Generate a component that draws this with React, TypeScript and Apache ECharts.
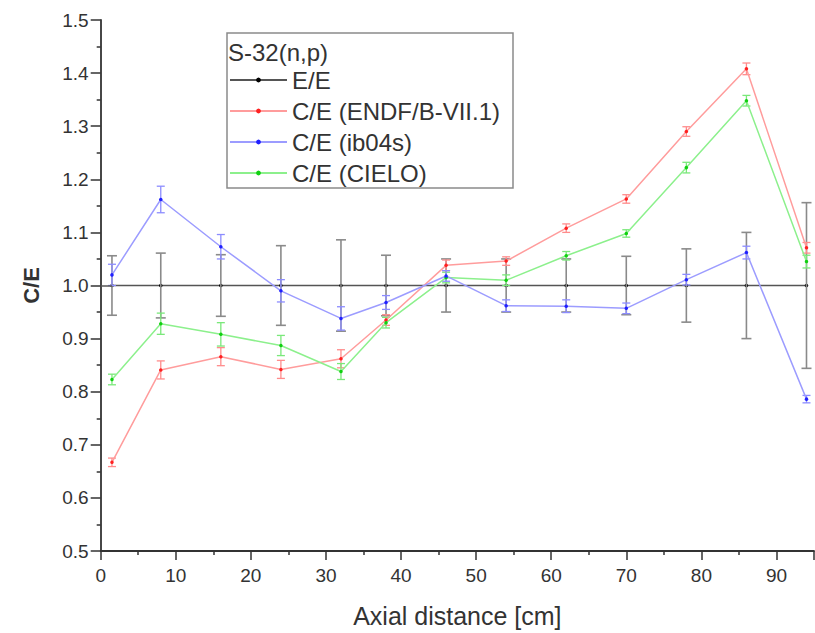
import React, { useEffect, useRef } from "react";
import * as echarts from "echarts";

const axialDistance = [1.5, 8, 16, 24, 32, 38, 46, 54, 62, 70, 78, 86, 94];
const eeValues = [1, 1, 1, 1, 1, 1, 1, 1, 1, 1, 1, 1, 1];
const eeErrors = [0.056, 0.061, 0.058, 0.075, 0.086, 0.057, 0.05, 0.05, 0.05, 0.055, 0.069, 0.1, 0.156];
const endfValues = [0.667, 0.841, 0.866, 0.842, 0.862, 0.935, 1.038, 1.046, 1.108, 1.163, 1.29, 1.408, 1.071];
const endfErrors = [0.008, 0.017, 0.017, 0.017, 0.017, 0.01, 0.01, 0.008, 0.008, 0.008, 0.009, 0.011, 0.01];
const ib04sValues = [1.02, 1.162, 1.073, 0.99, 0.938, 0.968, 1.018, 0.962, 0.961, 0.957, 1.011, 1.062, 0.786];
const ib04sErrors = [0.02, 0.025, 0.023, 0.021, 0.022, 0.013, 0.01, 0.011, 0.012, 0.01, 0.01, 0.012, 0.007];
const cieloValues = [0.823, 0.928, 0.908, 0.887, 0.838, 0.93, 1.015, 1.01, 1.056, 1.098, 1.222, 1.348, 1.045];
const cieloErrors = [0.01, 0.02, 0.022, 0.019, 0.015, 0.01, 0.01, 0.01, 0.008, 0.007, 0.01, 0.01, 0.012];

const seriesNames = ["E/E", "C/E (ENDF/B-VII.1)", "C/E (ib04s)", "C/E (CIELO)"];
const legendTitle = "S-32(n,p)";
const xAxisTitle = "Axial distance [cm]";
const yAxisTitle = "C/E";

const FONT = "'Liberation Sans', Arial, Helvetica, sans-serif";

type Spec = {
  name: string;
  values: number[];
  errors: number[];
  lineColor: string;
  dotColor: string;
  barColor: string;
  cap: number;
  barWidth: number;
};

const specs: Spec[] = [
  { name: seriesNames[0], values: eeValues, errors: eeErrors, lineColor: "#555555", dotColor: "#000000", barColor: "#8a8a8a", cap: 5, barWidth: 1.6 },
  { name: seriesNames[1], values: endfValues, errors: endfErrors, lineColor: "#ff9c9c", dotColor: "#ff2020", barColor: "#ff8c8c", cap: 4, barWidth: 1.3 },
  { name: seriesNames[2], values: ib04sValues, errors: ib04sErrors, lineColor: "#9c9cff", dotColor: "#2020ff", barColor: "#8c8cff", cap: 4, barWidth: 1.3 },
  { name: seriesNames[3], values: cieloValues, errors: cieloErrors, lineColor: "#8cf08c", dotColor: "#10d010", barColor: "#7ae87a", cap: 4, barWidth: 1.3 },
];

function errorBarSeries(s: Spec) {
  return {
    type: "custom",
    name: s.name + " err",
    silent: true,
    z: 3,
    encode: { x: 0, y: [1, 2] },
    data: axialDistance.map((x, i) => [x, s.values[i] - s.errors[i], s.values[i] + s.errors[i]]),
    renderItem: (params: any, api: any) => {
      const x = api.value(0);
      const lo = api.coord([x, api.value(1)]);
      const hi = api.coord([x, api.value(2)]);
      const style = { stroke: s.barColor, lineWidth: s.barWidth, fill: "none" };
      return {
        type: "group",
        children: [
          { type: "line", shape: { x1: lo[0], y1: lo[1], x2: hi[0], y2: hi[1] }, style },
          { type: "line", shape: { x1: lo[0] - s.cap, y1: lo[1], x2: lo[0] + s.cap, y2: lo[1] }, style },
          { type: "line", shape: { x1: hi[0] - s.cap, y1: hi[1], x2: hi[0] + s.cap, y2: hi[1] }, style },
        ],
      };
    },
  };
}

function lineSeries(s: Spec, z: number) {
  return {
    type: "line",
    name: s.name,
    z,
    data: axialDistance.map((x, i) => [x, s.values[i]]),
    symbol: "circle",
    symbolSize: 3.5,
    showSymbol: true,
    itemStyle: { color: s.dotColor },
    lineStyle: { color: s.lineColor, width: 1.5 },
    emphasis: { disabled: true },
  };
}

export default function App() {
  const ref = useRef<HTMLDivElement>(null);
  useEffect(() => {
    if (!ref.current) return;
    const chart = echarts.init(ref.current, undefined, { renderer: "svg" });
    const eeLine: any = lineSeries(specs[0], 2);
    eeLine.markLine = {
      silent: true,
      symbol: "none",
      label: { show: false },
      lineStyle: { color: "#555555", width: 1.5, type: "solid" },
      data: [[{ coord: [0, 1] }, { coord: [axialDistance[0], 1] }]],
    };
    const option: any = {
      animation: false,
      backgroundColor: "#ffffff",
      grid: { left: 100.7, right: 1, top: 20, bottom: 81, containLabel: false },
      xAxis: {
        type: "value",
        min: 0,
        max: 95,
        interval: 10,
        name: xAxisTitle,
        nameLocation: "middle",
        nameGap: 52,
        nameTextStyle: { fontSize: 25, color: "#333", fontFamily: FONT },
        axisLine: { show: true, onZero: false, lineStyle: { color: "#333", width: 1.8 } },
        axisTick: { show: true, inside: false, length: 9, lineStyle: { color: "#333", width: 1.5 } },
        minorTick: { show: true, splitNumber: 2, length: 4, lineStyle: { color: "#333", width: 1.5 } },
        axisLabel: { fontSize: 19, color: "#333", fontFamily: FONT, margin: 15, showMaxLabel: false },
        splitLine: { show: false },
      },
      yAxis: {
        type: "value",
        min: 0.5,
        max: 1.5,
        interval: 0.1,
        name: yAxisTitle,
        nameLocation: "middle",
        nameRotate: 90,
        nameGap: 58,
        nameTextStyle: { fontSize: 22, fontWeight: "bold", color: "#333", fontFamily: FONT },
        axisLine: { show: true, onZero: false, lineStyle: { color: "#333", width: 1.8 } },
        axisTick: { show: true, inside: false, length: 10, lineStyle: { color: "#333", width: 1.5 } },
        minorTick: { show: true, splitNumber: 2, length: 4, lineStyle: { color: "#333", width: 1.5 } },
        axisLabel: {
          fontSize: 19,
          color: "#333",
          fontFamily: FONT,
          margin: 12,
          formatter: (v: number) => v.toFixed(1),
        },
        splitLine: { show: false },
      },
      legend: {
        orient: "vertical",
        left: 229,
        top: 68,
        padding: 0,
        itemWidth: 57,
        itemHeight: 6,
        itemGap: 7,
        data: seriesNames,
        selectedMode: false,
        textStyle: { fontSize: 24, color: "#333", fontFamily: FONT, lineHeight: 24 },
        z: 6,
      },
      graphic: [
        {
          type: "rect",
          z: 4,
          shape: { x: 227, y: 33, width: 286, height: 155 },
          style: { fill: "#ffffff", stroke: "#8a8a8a", lineWidth: 1.5 },
        },
        {
          type: "text",
          z: 5,
          x: 228,
          y: 40,
          style: { text: legendTitle, fontSize: 24, fill: "#333", fontFamily: FONT },
        },
      ],
      series: [
        errorBarSeries(specs[0]),
        eeLine,
        errorBarSeries(specs[1]),
        lineSeries(specs[1], 4),
        errorBarSeries(specs[3]),
        lineSeries(specs[3], 4),
        errorBarSeries(specs[2]),
        lineSeries(specs[2], 4),
      ],
    };
    chart.setOption(option);
    return () => chart.dispose();
  }, []);
  return <div ref={ref} style={{ position: "fixed", left: 0, top: 0, width: 815, height: 633 }} />;
}
